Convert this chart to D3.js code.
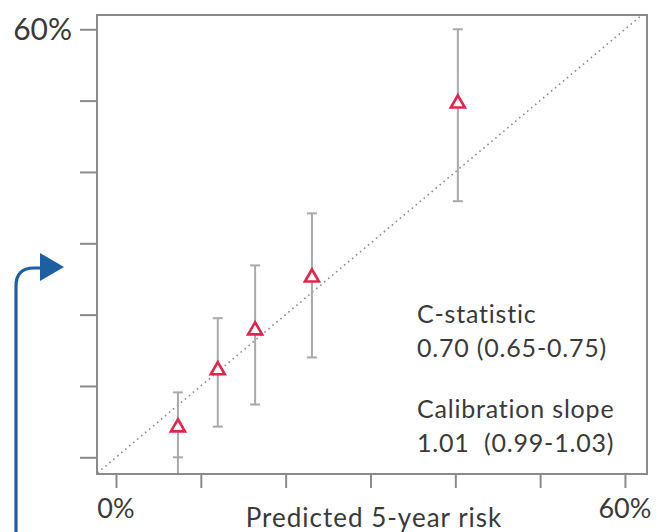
<!DOCTYPE html>
<html>
<head>
<meta charset="utf-8">
<script src="https://cdn.jsdelivr.net/npm/d3@7"></script>
<style>
  body { margin: 0; background: #fff; }
  svg { display: block; font-family: Lato, "Open Sans", sans-serif; }
  text { fill: #3a3a3a; }
</style>
</head>
<body>
<svg id="chart" width="659" height="532"></svg>
<script>
// observed vs predicted 5-year risk, by risk group (percent)
var predicted = [7.3, 12.0, 16.4, 23.1, 40.3];
var observed  = [4.2, 12.2, 17.8, 25.2, 49.6];
var ciLow     = [0.0, 4.3, 7.4, 14.0, 35.9];
var ciHigh    = [9.1, 19.5, 26.9, 34.2, 60.0];

var tickValues = [0, 10, 20, 30, 40, 50, 60];
var xLabelTicks = [0, 60];
var yLabelTicks = [60];
var xTitle = "Predicted 5-year risk";
var statLines = ["C-statistic", "0.70 (0.65-0.75)", "Calibration slope", "1.01  (0.99-1.03)"];

var svg = d3.select("#chart");

var x = d3.scaleLinear().domain([-2.24, 62.6]).range([97, 647]);
var y = d3.scaleLinear().domain([-2.2, 62.0]).range([473, 15]);

// diagonal reference line (perfect calibration)
svg.append("line")
  .attr("x1", x(-2.2)).attr("y1", y(-2.2))
  .attr("x2", x(61.8)).attr("y2", y(61.8))
  .attr("stroke", "#8c8c8c")
  .attr("stroke-width", 1.6)
  .attr("stroke-dasharray", "1.6,3.6");

// error bars
var pts = predicted.map(function(p, i) {
  return { x: p, y: observed[i], lo: ciLow[i], hi: ciHigh[i] };
});

var bars = svg.append("g").attr("stroke", "#a9a9a9").attr("stroke-width", 2);
bars.selectAll(".bar").data(pts).enter().append("line")
  .attr("x1", function(d) { return x(d.x); })
  .attr("x2", function(d) { return x(d.x); })
  .attr("y1", function(d) { return y(d.hi); })
  .attr("y2", function(d, i) { return i === 0 ? y(-2.2) : y(d.lo); });
bars.selectAll(".capHi").data(pts).enter().append("line")
  .attr("x1", function(d) { return x(d.x) - 5; })
  .attr("x2", function(d) { return x(d.x) + 5; })
  .attr("y1", function(d) { return y(d.hi); })
  .attr("y2", function(d) { return y(d.hi); });
bars.selectAll(".capLo").data(pts).enter().append("line")
  .attr("x1", function(d) { return x(d.x) - 5; })
  .attr("x2", function(d) { return x(d.x) + 5; })
  .attr("y1", function(d) { return y(d.lo); })
  .attr("y2", function(d) { return y(d.lo); });

// triangle markers
svg.append("g").selectAll("path").data(pts).enter().append("path")
  .attr("d", d3.symbol().type(d3.symbolTriangle).size(85))
  .attr("transform", function(d) { return "translate(" + x(d.x) + "," + y(d.y) + ")"; })
  .attr("fill", "#fff")
  .attr("stroke", "#e3234a")
  .attr("stroke-width", 2.6);

// frame
svg.append("rect")
  .attr("x", 97).attr("y", 15)
  .attr("width", 550).attr("height", 459)
  .attr("fill", "none")
  .attr("stroke", "#8a8a8a")
  .attr("stroke-width", 2);

// axes
var xAxis = svg.append("g")
  .attr("transform", "translate(0,474)")
  .call(d3.axisBottom(x).tickValues(tickValues).tickSize(14).tickFormat(""));
var yAxis = svg.append("g")
  .attr("transform", "translate(97,0)")
  .call(d3.axisLeft(y).tickValues(tickValues).tickSize(17).tickFormat(""));
[xAxis, yAxis].forEach(function(a) {
  a.select(".domain").remove();
  a.selectAll(".tick line").attr("stroke", "#8a8a8a").attr("stroke-width", 2);
});

svg.selectAll(".xlab").data(xLabelTicks).enter().append("text")
  .attr("x", function(d) { return x(d); })
  .attr("y", 518)
  .attr("text-anchor", "middle")
  .attr("font-size", 27)
  .text(function(d) { return d + "%"; });

svg.selectAll(".ylab").data(yLabelTicks).enter().append("text")
  .attr("x", 72)
  .attr("y", function(d) { return y(d); })
  .attr("dy", "0.36em")
  .attr("text-anchor", "end")
  .attr("font-size", 30)
  .text(function(d) { return d + "%"; });

svg.append("text")
  .attr("x", 374).attr("y", 527)
  .attr("text-anchor", "middle")
  .attr("font-size", 26)
  .attr("letter-spacing", 1)
  .text(xTitle);

// statistics annotation
var statY = [323, 357, 418, 452];
svg.append("g").selectAll("text").data(statLines).enter().append("text")
  .attr("x", 417)
  .attr("y", function(d, i) { return statY[i]; })
  .attr("font-size", 25)
  .attr("letter-spacing", 0.8)
  .style("white-space", "pre")
  .text(function(d) { return d; });

// blue pointer arrow on the left
var p = d3.path();
p.moveTo(16, 534);
p.lineTo(16, 286);
p.quadraticCurveTo(16, 268, 34, 268);
p.lineTo(44, 268);
svg.append("path").attr("d", p.toString())
  .attr("fill", "none").attr("stroke", "#1d5fa3").attr("stroke-width", 3.2);
svg.append("path")
  .attr("d", "M40,253L64,267L40,281Z")
  .attr("fill", "#1d5fa3");
</script>
</body>
</html>
